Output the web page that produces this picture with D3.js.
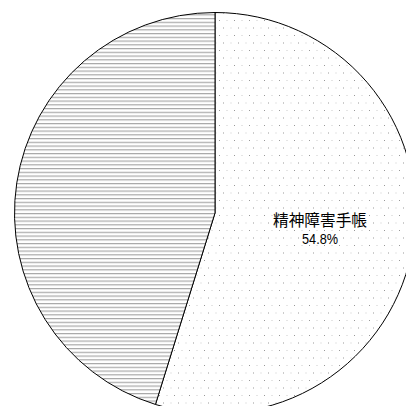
<!DOCTYPE html>
<html>
<head>
<meta charset="utf-8">
<script src="https://cdn.jsdelivr.net/npm/d3@7"></script>
<style>
  body { margin: 0; background: #fff; }
  svg { display: block; }
</style>
</head>
<body>
<svg></svg>
<script>
// data
let labels = ['精神障害手帳', 'その他']
let values = [54.8, 45.2]
let showLabel = [true, false]

let width = 406
let height = 406
let cx = 215
let cy = 213
let radius = 200.5

let svg = d3.select('svg')
svg.attr('width', width).attr('height', height)

let defs = svg.append('defs')

// dotted fill
let dots = defs.append('pattern')
    .attr('id', 'dots')
    .attr('patternUnits', 'userSpaceOnUse')
    .attr('width', 15)
    .attr('height', 15)
dots.append('rect').attr('width', 15).attr('height', 15).attr('fill', '#fff')
dots.append('rect').attr('x', 4).attr('y', 2).attr('width', 1).attr('height', 1).attr('fill', '#999')
dots.append('rect').attr('x', 11.5).attr('y', 2).attr('width', 1).attr('height', 1).attr('fill', '#ccc')
dots.append('rect').attr('x', 0.5).attr('y', 9.5).attr('width', 1).attr('height', 1).attr('fill', '#ccc')
dots.append('rect').attr('x', 8).attr('y', 9.5).attr('width', 1).attr('height', 1).attr('fill', '#999')

// horizontal line fill
let hlines = defs.append('pattern')
    .attr('id', 'hlines')
    .attr('patternUnits', 'userSpaceOnUse')
    .attr('width', 10)
    .attr('height', 3.75)
hlines.append('rect').attr('width', 10).attr('height', 3.75).attr('fill', '#fff')
hlines.append('rect').attr('y', 0).attr('width', 10).attr('height', 1.2).attr('fill', '#a8a8a8')

let fills = ['url(#dots)', 'url(#hlines)']

let pie = d3.pie().sort(null).value((d) => d)
let arc = d3.arc().innerRadius(0).outerRadius(radius)

let g = svg.append('g')
    .attr('transform', 'translate(' + cx + ',' + cy + ')')

let arcs = pie(values)

g.selectAll('path')
    .data(arcs)
    .enter()
    .append('path')
    .attr('d', arc)
    .attr('fill', (d, i) => fills[i])
    .attr('stroke', '#000')
    .attr('stroke-width', 1)
    .attr('stroke-linejoin', 'miter')

let labelArc = d3.arc().innerRadius(radius * 0.53).outerRadius(radius * 0.53)

arcs.forEach((d, i) => {
    if (!showLabel[i]) return
    let p = labelArc.centroid(d)
    // name
    g.append('text')
        .attr('text-anchor', 'middle')
        .attr('font-family', '"Noto Sans CJK JP", sans-serif')
        .attr('fill', '#000')
        .attr('x', p[0])
        .attr('y', 225.5 - cy)
        .attr('font-size', 15.5)
        .attr('textLength', 94)
        .attr('lengthAdjust', 'spacingAndGlyphs')
        .text(labels[i])
    // percent
    g.append('text')
        .attr('text-anchor', 'middle')
        .attr('font-family', '"Liberation Sans", Arial, sans-serif')
        .attr('fill', '#000')
        .attr('x', p[0])
        .attr('y', 244 - cy)
        .attr('font-size', 14)
        .attr('textLength', 36)
        .attr('lengthAdjust', 'spacingAndGlyphs')
        .text(d3.format('.1f')(values[i]) + '%')
})
</script>
</body>
</html>
